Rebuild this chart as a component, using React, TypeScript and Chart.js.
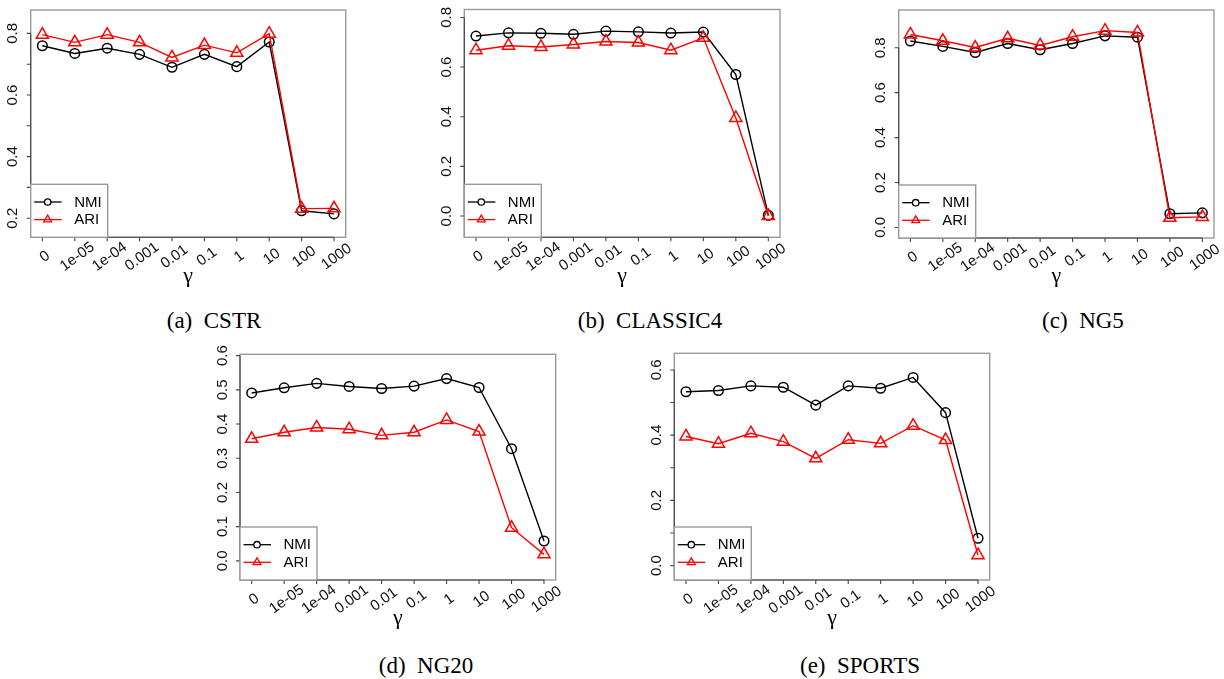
import React, { useEffect, useRef } from "react";
import { Chart, registerables } from "chart.js";

Chart.register(...registerables);

// ---------- data ----------
const gammaLabels = ["0", "1e-05", "1e-04", "0.001", "0.01", "0.1", "1", "10", "100", "1000"];
const seriesNames = ["NMI", "ARI"];

const cstrNMI = [0.760, 0.735, 0.752, 0.732, 0.690, 0.732, 0.692, 0.772, 0.224, 0.214];
const cstrARI = [0.796, 0.771, 0.796, 0.771, 0.722, 0.762, 0.737, 0.799, 0.231, 0.232];

const classic4NMI = [0.725, 0.738, 0.736, 0.732, 0.745, 0.742, 0.737, 0.741, 0.570, 0.003];
const classic4ARI = [0.668, 0.686, 0.681, 0.691, 0.703, 0.699, 0.668, 0.718, 0.395, 0.0];

const ng5NMI = [0.830, 0.806, 0.779, 0.819, 0.791, 0.819, 0.853, 0.847, 0.061, 0.065];
const ng5ARI = [0.859, 0.831, 0.801, 0.842, 0.810, 0.849, 0.876, 0.868, 0.043, 0.047];

const ng20NMI = [0.491, 0.506, 0.519, 0.510, 0.504, 0.511, 0.533, 0.507, 0.328, 0.058];
const ng20ARI = [0.357, 0.376, 0.390, 0.385, 0.367, 0.376, 0.412, 0.378, 0.097, 0.019];

const sportsNMI = [0.533, 0.537, 0.551, 0.547, 0.492, 0.551, 0.544, 0.577, 0.469, 0.084];
const sportsARI = [0.396, 0.374, 0.406, 0.380, 0.329, 0.386, 0.375, 0.429, 0.385, 0.032];

// y-axis ticks and labelled ticks per panel
const cstrYTicks = [0.2, 0.3, 0.4, 0.5, 0.6, 0.7, 0.8];
const cstrYLabels = [0.2, 0.4, 0.6, 0.8];
const classic4YTicks = [0.0, 0.2, 0.4, 0.6, 0.8];
const classic4YLabels = [0.0, 0.2, 0.4, 0.6, 0.8];
const ng5YTicks = [0.0, 0.2, 0.4, 0.6, 0.8];
const ng5YLabels = [0.0, 0.2, 0.4, 0.6, 0.8];
const ng20YTicks = [0.0, 0.1, 0.2, 0.3, 0.4, 0.5, 0.6];
const ng20YLabels = [0.0, 0.1, 0.2, 0.3, 0.4, 0.5, 0.6];
const sportsYTicks = [0.0, 0.1, 0.2, 0.3, 0.4, 0.5, 0.6];
const sportsYLabels = [0.0, 0.2, 0.4, 0.6];

// ---------- layout ----------
type PanelDef = {
  nmi: number[];
  ari: number[];
  yMin: number;
  yMax: number;
  yTicks: number[];
  yLabels: number[];
  box: [number, number, number, number]; // left, top, right, bottom
  caption: string;
  capTag: string;
  capX: number;
  capY: number;
};

const panels: PanelDef[] = [
  { nmi: cstrNMI, ari: cstrARI, yMin: 0.138, yMax: 0.876, yTicks: cstrYTicks, yLabels: cstrYLabels,
    box: [30.7, 10, 345.7, 237.3], capTag: "(a)", caption: "CSTR", capX: 214, capY: 321 },
  { nmi: classic4NMI, ari: classic4ARI, yMin: -0.086, yMax: 0.832, yTicks: classic4YTicks, yLabels: classic4YLabels,
    box: [464.3, 9.5, 780, 237.3], capTag: "(b)", caption: "CLASSIC4", capX: 650, capY: 321 },
  { nmi: ng5NMI, ari: ng5ARI, yMin: -0.047, yMax: 0.968, yTicks: ng5YTicks, yLabels: ng5YLabels,
    box: [898.7, 10, 1214, 238], capTag: "(c)", caption: "NG5", capX: 1083, capY: 321 },
  { nmi: ng20NMI, ari: ng20ARI, yMin: -0.056, yMax: 0.604, yTicks: ng20YTicks, yLabels: ng20YLabels,
    box: [240, 354.3, 555.7, 580], capTag: "(d)", caption: "NG20", capX: 426, capY: 666 },
  { nmi: sportsNMI, ari: sportsARI, yMin: -0.044, yMax: 0.651, yTicks: sportsYTicks, yLabels: sportsYLabels,
    box: [674.3, 353.3, 989.7, 580], capTag: "(e)", caption: "SPORTS", capX: 860, capY: 666 },
];

const AXIS_FONT = '15px "Liberation Sans", Arial, Helvetica, sans-serif';

function drawTriangle(ctx: CanvasRenderingContext2D, x: number, y: number, r: number) {
  ctx.beginPath();
  ctx.moveTo(x, y - r);
  ctx.lineTo(x + r * Math.sin((2 * Math.PI) / 3), y - r * Math.cos((2 * Math.PI) / 3));
  ctx.lineTo(x + r * Math.sin((4 * Math.PI) / 3), y - r * Math.cos((4 * Math.PI) / 3));
  ctx.closePath();
  ctx.stroke();
}

function Panel({ p }: { p: PanelDef }) {
  const ref = useRef<HTMLCanvasElement | null>(null);
  const [bl, bt, br, bb] = p.box;
  const cLeft = Math.floor(bl) - 40;
  const cTop = Math.floor(bt) - 10;
  const cW = Math.ceil(br) - cLeft + 10;
  const cH = Math.ceil(bb) - cTop + 60;

  useEffect(() => {
    const canvas = ref.current;
    if (!canvas) return;
    const rPlugin = {
      id: "rstyle",
      afterDraw(chart: any) {
        const ctx: CanvasRenderingContext2D = chart.ctx;
        const { left, top, right, bottom } = chart.chartArea;
        const xs = chart.scales.x;
        const ys = chart.scales.y;
        ctx.save();
        // plot box
        ctx.strokeStyle = "#9a9a9a";
        ctx.lineWidth = 1.4;
        ctx.strokeRect(left, top, right - left, bottom - top);
        // axes
        ctx.strokeStyle = "#444";
        ctx.lineWidth = 1.1;
        ctx.beginPath();
        ctx.moveTo(left, ys.getPixelForValue(p.yTicks[0]));
        ctx.lineTo(left, ys.getPixelForValue(p.yTicks[p.yTicks.length - 1]));
        p.yTicks.forEach((v) => {
          const py = ys.getPixelForValue(v);
          ctx.moveTo(left, py);
          ctx.lineTo(left - 4, py);
        });
        ctx.moveTo(xs.getPixelForValue(0), bottom);
        ctx.lineTo(xs.getPixelForValue(gammaLabels.length - 1), bottom);
        gammaLabels.forEach((_, i) => {
          const px = xs.getPixelForValue(i);
          ctx.moveTo(px, bottom);
          ctx.lineTo(px, bottom + 4);
        });
        ctx.stroke();
        // y labels
        ctx.fillStyle = "#111";
        ctx.font = AXIS_FONT;
        ctx.textAlign = "center";
        ctx.textBaseline = "middle";
        p.yLabels.forEach((v) => {
          const py = ys.getPixelForValue(v);
          ctx.save();
          ctx.translate(left - 17.5, py);
          ctx.rotate(-Math.PI / 2);
          ctx.fillText(v.toFixed(1), 0, 0);
          ctx.restore();
        });
        // x labels
        gammaLabels.forEach((lab, i) => {
          const px = xs.getPixelForValue(i);
          ctx.save();
          ctx.translate(px + 2.5, bottom + 19.5);
          ctx.rotate((-36 * Math.PI) / 180);
          ctx.fillText(lab, 0, 0);
          ctx.restore();
        });
        // gamma axis title
        ctx.font = '22px "Liberation Serif", "DejaVu Serif", serif';
        ctx.fillStyle = "#000";
        ctx.fillText("\u03b3", (left + right) / 2, bottom + 38.5);
        // legend
        const lw = 77;
        const lh = 53;
        ctx.fillStyle = "#fff";
        ctx.fillRect(left, bottom - lh, lw, lh);
        ctx.strokeStyle = "#9a9a9a";
        ctx.lineWidth = 1.4;
        ctx.strokeRect(left, bottom - lh, lw, lh);
        const rows = [bottom - 35.3, bottom - 17.7];
        const cols = ["#000000", "#ff0000"];
        rows.forEach((ry, k) => {
          ctx.strokeStyle = cols[k];
          ctx.lineWidth = 1.3;
          ctx.beginPath();
          ctx.moveTo(left + 3.5, ry);
          ctx.lineTo(left + 31, ry);
          ctx.stroke();
          if (k === 0) {
            ctx.beginPath();
            ctx.arc(left + 17, ry, 3.2, 0, Math.PI * 2);
            ctx.fillStyle = "#fff";
            ctx.fill();
            ctx.stroke();
          } else {
            drawTriangle(ctx, left + 17, ry, 4.5);
          }
          ctx.fillStyle = "#000";
          ctx.font = AXIS_FONT;
          ctx.textAlign = "left";
          ctx.textBaseline = "middle";
          ctx.fillText(seriesNames[k], left + 43.5, ry + 0.5);
        });
        ctx.restore();
      },
    };

    const chart = new Chart(canvas, {
      type: "line",
      data: {
        datasets: [
          {
            label: seriesNames[0],
            data: p.nmi.map((v, i) => ({ x: i, y: v })),
            borderColor: "#000000",
            borderWidth: 1.4,
            pointStyle: "circle",
            pointRadius: 4.8,
            pointBorderWidth: 1.5,
            pointBorderColor: "#000000",
            pointBackgroundColor: "rgba(0,0,0,0)",
            tension: 0,
            fill: false,
            order: 2,
          },
          {
            label: seriesNames[1],
            data: p.ari.map((v, i) => ({ x: i, y: v })),
            borderColor: "#ff0000",
            borderWidth: 1.4,
            pointStyle: "triangle",
            pointRadius: 7,
            pointBorderWidth: 1.5,
            pointBorderColor: "#ff0000",
            pointBackgroundColor: "rgba(0,0,0,0)",
            tension: 0,
            fill: false,
            order: 1,
          },
        ],
      },
      options: {
        animation: false,
        responsive: false,
        maintainAspectRatio: false,
        devicePixelRatio: 1,
        events: [],
        layout: {
          padding: {
            left: bl - cLeft,
            top: bt - cTop,
            right: cLeft + cW - br,
            bottom: cTop + cH - bb,
          },
        },
        scales: {
          x: { type: "linear", min: -0.36, max: gammaLabels.length - 1 + 0.36, display: false },
          y: { type: "linear", min: p.yMin, max: p.yMax, display: false },
        },
        plugins: {
          legend: { display: false },
          tooltip: { enabled: false },
        },
      },
      plugins: [rPlugin],
    } as any);
    return () => chart.destroy();
  }, []);

  return (
    <>
      <canvas
        ref={ref}
        width={cW}
        height={cH}
        style={{ position: "absolute", left: cLeft, top: cTop, width: cW, height: cH }}
      />
      <div
        style={{
          position: "absolute",
          left: p.capX - 150,
          top: p.capY - 14,
          width: 300,
          height: 28,
          lineHeight: "28px",
          textAlign: "center",
          fontFamily: '"Liberation Serif", "Times New Roman", serif',
          fontSize: 23,
          color: "#000",
          whiteSpace: "nowrap",
        }}
      >
        {p.capTag}&nbsp;&nbsp;{p.caption}
      </div>
    </>
  );
}

export default function App() {
  return (
    <div
      style={{
        position: "fixed",
        left: 0,
        top: 0,
        width: 1224,
        height: 679,
        background: "#fff",
        overflow: "hidden",
      }}
    >
      {panels.map((p, i) => (
        <Panel key={i} p={p} />
      ))}
    </div>
  );
}
